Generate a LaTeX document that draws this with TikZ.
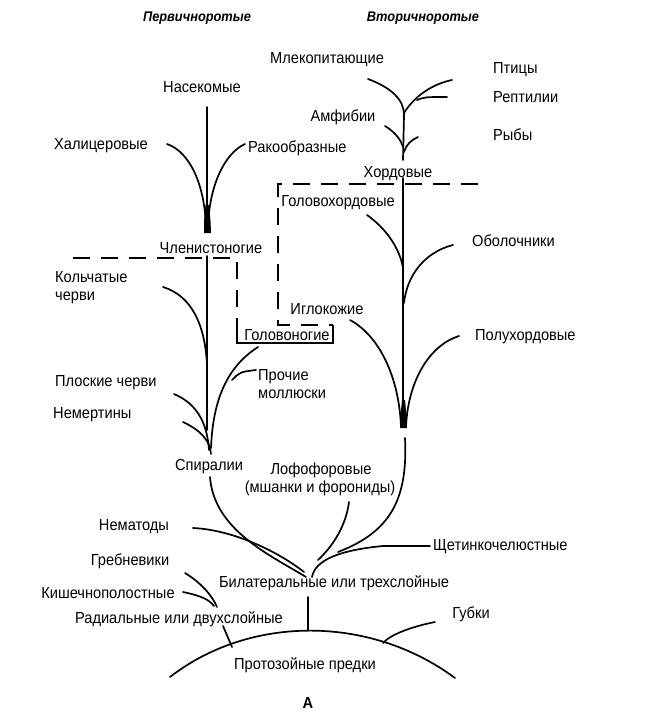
\documentclass[tikz,border=0pt]{standalone}
\usepackage{fontspec}
\setmainfont[FakeStretch=0.915]{Liberation Sans}
\begin{document}
\begin{tikzpicture}[x=1pt,y=-1pt,
  lbl/.style={font=\fontsize{16}{18}\selectfont, inner sep=0pt},
  ttl/.style={font=\fontsize{14}{16}\selectfont\bfseries\itshape, inner sep=0pt},
  br/.style={line width=1.7pt, line cap=round},
  bnd/.style={line width=1.5pt, dash pattern=on 17pt off 11pt},
  boxl/.style={line width=1.3pt}]
\useasboundingbox[fill=white] (0,0) rectangle (646,717);

% titles
\node[ttl] (t1) at (197,18) {Первичноротые};
\node[ttl] (t2) at (423,18) {Вторичноротые};

% protostome labels
\node[lbl] (ins) at (202,87) {Насекомые};
\node[lbl] (hal) at (101,146) {Халицеровые};
\node[lbl,anchor=west] (rak) at (248,148) {Ракообразные};
\node[lbl] (chl) at (211,248) {Членистоногие};
\node[lbl,anchor=west,align=left] (kol) at (55,288) {Кольчатые\\черви};
\node[lbl,anchor=west] (plo) at (55,383) {Плоские черви};
\node[lbl,anchor=west] (nem) at (53,415) {Немертины};
\node[lbl] (gol) at (287,335) {Головоногие};
\node[lbl,anchor=west,align=left] (pro) at (258,384) {Прочие\\моллюски};
\node[lbl] (spi) at (209,467) {Спиралии};
\node[lbl] (lof) at (321,470) {Лофофоровые};
\node[lbl] (lof2) at (320,488) {(мшанки и форониды)};
\node[lbl] (nema) at (134,527) {Нематоды};
\node[lbl,anchor=west] (shch) at (433,547) {Щетинкочелюстные};
\node[lbl] (bil) at (334,583) {Билатеральные или трехслойные};
\node[lbl] (greb) at (130,561) {Гребневики};
\node[lbl] (kish) at (108,593) {Кишечнополостные};
\node[lbl] (rad) at (179,619) {Радиальные или двухслойные};
\node[lbl] (gub) at (471,614) {Губки};
\node[lbl] (proto) at (305,665) {Протозойные предки};
\node[lbl,font=\fontsize{16}{18}\selectfont\bfseries] (A) at (308,703) {А};

% deuterostome labels
\node[lbl] (mlek) at (327,60) {Млекопитающие};
\node[lbl,anchor=west] (pti) at (493,70) {Птицы};
\node[lbl,anchor=west] (rep) at (493,97) {Рептилии};
\node[lbl,anchor=west] (ryb) at (493,135) {Рыбы};
\node[lbl] (amf) at (343,117) {Амфибии};
\node[lbl] (hor) at (398,174) {Хордовые};
\node[lbl] (golh) at (338,203) {Головохордовые};
\node[lbl,anchor=west] (obo) at (472,241) {Оболочники};
\node[lbl] (igl) at (327,309) {Иглокожие};
\node[lbl,anchor=west] (pol) at (475,337) {Полухордовые};

% arthropods
\draw[br] (207,107) -- (207,230);
\draw[br] (167,144) .. controls (190,152) and (205,185) .. (206,228);
\draw[br] (245,144) .. controls (225,153) and (209,185) .. (208,228);
\fill (205.5,205) .. controls (204,220) .. (204,233) -- (211,233) .. controls (210.5,220) .. (209,205) -- cycle;

% protostome lower
\draw[br] (207,256) -- (207,430);
\draw[br] (163,287) .. controls (192,296) and (205,325) .. (207,365);
\draw[br] (174,394) .. controls (195,403) and (207,420) .. (209,450);
\draw[br] (183,422) .. controls (200,430) and (210,440) .. (211,454);
\draw[br] (258,347) .. controls (230,365) and (213,395) .. (211,448);
\draw[br] (232,380) .. controls (240,372) .. (256,370);

% lower convergence
\draw[br] (210,477) .. controls (214,530) and (270,555) .. (306,577);
\draw[br] (193,528) .. controls (235,530) and (280,553) .. (304,572);
\draw[br] (405,438) .. controls (408,500) and (390,532) .. (338,552);
\draw[br] (349,502) .. controls (346,525) and (334,545) .. (318,560);
\draw[br] (430,546) -- (383,546) .. controls (340,550) and (315,560) .. (312,577);
\draw[br] (308,597) -- (308,630);

% base
\draw[br] (170,677) .. controls (250,615) and (370,615) .. (455,678);
\draw[br] (223,626) -- (232,647);
\draw[br] (185,573) .. controls (200,582) and (212,595) .. (217,607);
\draw[br] (183,592) .. controls (197,595) and (208,598) .. (214,606);
\draw[br] (435,622) .. controls (410,627) and (390,635) .. (383,643);

% deuterostomes
\draw[br] (403,178) -- (403,427);
\draw[br] (367,215) .. controls (388,230) and (400,250) .. (403,268);
\draw[br] (453,245) .. controls (425,252) and (407,275) .. (404,303);
\draw[br] (350,320) .. controls (378,335) and (399,375) .. (401,427);
\draw[br] (459,336) .. controls (430,345) and (408,380) .. (406,427);
\fill (402,400) .. controls (400.5,415) .. (400,428) -- (407,428) .. controls (406.5,415) .. (405,400) -- cycle;

% upper chordates
\draw[br] (403,160) -- (404,115);
\draw[br] (368,79) .. controls (392,88) and (404,100) .. (404,115);
\draw[br] (404,113) .. controls (412,100) and (428,85) .. (452,80);
\draw[br] (417,100) .. controls (425,97) .. (447,97);
\draw[br] (385,126) .. controls (395,132) and (401,140) .. (403,147);
\draw[br] (404,152) .. controls (406,145) and (411,140) .. (418,137);

% boundaries
\draw[bnd] (73,258) -- (237,258) -- (237,325);
\draw[bnd] (478,184) -- (278,184) -- (278,325) -- (333,325);
\draw[boxl] (237,325) -- (237,343) -- (333,343) -- (333,325);
\end{tikzpicture}
\end{document}
